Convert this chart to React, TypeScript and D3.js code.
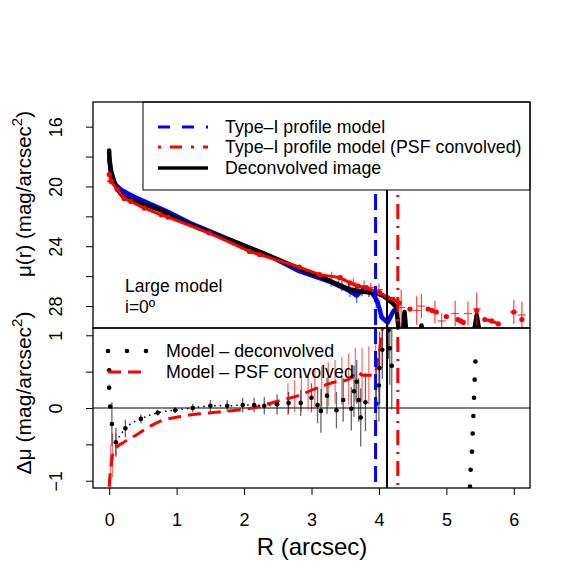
import React, { useEffect, useRef } from "react";
import * as d3 from "d3";

// top panel: surface brightness profiles, R in arcsec, mu in mag/arcsec^2
const deconvR = [0.0, 0.005, 0.025, 0.065, 0.12, 0.2, 0.32, 0.52, 0.77, 0.97, 1.34, 1.8, 2.3, 2.82, 3.12, 3.31, 3.57, 3.7, 3.86, 4.0, 4.06, 4.13, 4.2, 4.26, 4.3, 4.35, 4.38, 4.41, 4.6, 4.63, 4.66, 5.4, 5.45, 5.5, 6.1];
const deconvMu = [17.6, 18.2, 18.9, 19.55, 20.2, 20.65, 20.9, 21.2, 21.6, 22.1, 22.8, 23.6, 24.5, 25.5, 26.0, 26.4, 26.9, 27.0, 27.1, 27.2, 27.3, 27.55, 27.8, 28.1, 30, 30, 28.4, 30, 30, 29.3, 30, 30, 28.6, 30, 30];
const deconvErrR = [3.4, 3.55, 3.65, 3.75, 3.85];
const deconvErrMu = [26.55, 26.85, 26.95, 27.05, 27.1];
const deconvErrHalf = [0.25, 0.3, 0.3, 0.3, 0.3];

const typeIR = [0.0, 0.025, 0.075, 0.17, 0.27, 0.42, 0.62, 0.87, 1.2, 1.6, 2.0, 2.4, 2.82, 2.97, 3.29, 3.57, 3.67, 3.76, 3.89, 3.96, 4.01, 4.04, 4.13, 4.19, 4.22];
const typeIMu = [18.1, 19.1, 19.8, 20.2, 20.45, 20.8, 21.2, 21.7, 22.45, 23.2, 23.95, 24.7, 25.67, 25.9, 26.4, 27.0, 27.3, 26.9, 27.1, 27.55, 28.2, 28.75, 29.1, 28.55, 28.3];
const typeIErrR = [3.29, 3.45, 3.57, 3.67, 3.76, 3.96, 4.01, 4.13];
const typeIErrMu = [26.4, 26.7, 27.0, 27.3, 26.9, 27.55, 28.2, 29.1];
const typeIErrHalf = [0.3, 0.3, 0.4, 0.5, 0.3, 0.6, 0.6, 0.5];

const psfR = [0.0, 0.025, 0.12, 0.22, 0.32, 0.52, 0.77, 0.87, 1.48, 2.08, 2.23, 2.82, 3.12, 3.42, 3.57, 3.69, 3.81, 4.01, 4.13, 4.21, 4.3, 4.4, 4.46, 4.6, 4.73, 4.79, 4.85, 4.9, 5.0, 5.1, 5.17, 5.21, 5.25, 5.3, 5.45, 5.5, 5.57, 5.67, 5.77, 5.9, 6.0, 6.05, 6.12];
const psfMu = [19.2, 19.65, 20.2, 20.8, 21.0, 21.45, 21.9, 22.05, 23.1, 24.35, 24.55, 25.4, 25.9, 26.1, 26.45, 26.67, 26.77, 27.1, 27.45, 27.55, 27.8, NaN, 28.2, NaN, 28.2, 28.3, 28.4, NaN, 28.7, NaN, 28.9, 29.0, 29.1, NaN, 28.3, NaN, 28.9, 29.0, 29.2, NaN, 28.4, NaN, 28.9];
const psfErrR = [0.025, 3.3, 3.45, 3.62, 3.78, 3.88, 4.0, 4.33, 4.56, 4.63, 4.83, 4.93, 5.13, 5.32, 5.45, 6.0, 6.12];
const psfErrMu = [19.65, 26.0, 26.2, 26.45, 26.65, 26.75, 26.9, 28.1, 28.3, 28.0, 28.4, 29.0, 28.5, 28.5, 28.2, 28.4, 28.6];
const psfErrHalf = [0.2, 0.3, 0.3, 0.3, 0.35, 0.3, 0.4, 1.2, 0.95, 0.8, 0.75, 0.5, 0.85, 0.8, 1.1, 0.8, 0.9];

// break radii (vertical lines)
const breakTypeI = 3.95;
const breakDeconv = 4.12;
const breakPsf = 4.28;

// bottom panel: residuals
const diffDeconvR = [0.0, 0.0, 0.015, 0.04, 0.1, 0.24, 0.47, 0.72, 0.98, 1.24, 1.5, 1.75, 1.98, 2.15, 2.3, 2.49, 2.66, 2.84, 3.0, 3.09, 3.14, 3.23, 3.37, 3.47, 3.59, 3.63, 3.67, 3.7, 3.73, 3.8, 3.96, 4.0, 4.01, 4.05, 4.14, 4.16, 4.19, 5.35, 5.36, 5.38, 5.39, 5.4, 5.41, 5.42, 5.43];
const diffDeconv = [0.52, 0.28, 0.02, -0.22, -0.47, -0.28, -0.15, -0.065, -0.03, 0.0, 0.03, 0.03, 0.04, 0.04, 0.03, 0.05, 0.07, 0.07, 0.14, 0.04, -0.04, 0.17, -0.03, 0.11, -0.01, 0.23, 0.36, 0.11, -0.13, 0.08, 0.06, 0.31, 0.55, 0.8, 1.07, 0.82, 0.58, -1.08, -0.85, -0.6, -0.35, -0.11, 0.14, 0.39, 0.64];
const diffDeconvErr = [0, 0, 0, 0.3, 0.2, 0.12, 0.06, 0.04, 0.04, 0.06, 0.08, 0.08, 0.1, 0.1, 0.12, 0.14, 0.15, 0.18, 0.2, 0.25, 0.3, 0.25, 0.25, 0.3, 0.3, 0.35, 0.3, 0.3, 0.4, 0.4, 0.45, 0.5, 0.5, 0.4, 0.4, 0.5, 0.6, 0, 0, 0, 0, 0, 0, 0, 0];

const diffPsfR = [0.0, 0.02, 0.03, 0.045, 0.1, 0.2, 0.4, 0.59, 0.79, 1.04, 1.34, 1.63, 1.88, 2.18, 2.48, 2.77, 3.07, 3.22, 3.37, 3.47, 3.6, 3.67, 3.76, 3.91, 3.99, 4.04, 4.08];
const diffPsf = [-1.08, -0.85, -0.78, -0.67, -0.55, -0.48, -0.37, -0.26, -0.17, -0.12, -0.08, -0.055, -0.03, 0.01, 0.09, 0.16, 0.27, 0.32, 0.36, 0.37, 0.42, 0.5, 0.45, 0.45, 0.66, 1.03, 1.2];
const diffPsfErrR = [0.02, 0.05, 0.1, 2.65, 2.75, 2.85, 2.95, 3.05, 3.15, 3.25, 3.35, 3.45, 3.55, 3.65, 3.75, 3.85, 3.95, 4.05];
const diffPsfErrC = [-0.8, -0.65, -0.5, 0.12, 0.16, 0.2, 0.22, 0.27, 0.3, 0.33, 0.36, 0.37, 0.4, 0.46, 0.45, 0.45, 0.55, 0.9];
const diffPsfErrHalf = [0.3, 0.3, 0.15, 0.22, 0.22, 0.25, 0.25, 0.28, 0.28, 0.3, 0.3, 0.33, 0.35, 0.37, 0.37, 0.4, 0.4, 0.35];

const muTicks = [16, 18, 20, 22, 24, 26, 28];
const muLabels = [16, 20, 24, 28];
const dTicks = [-1, -0.5, 0, 0.5, 1];
const dLabels = [-1, 0, 1];
const rTicks = [0, 1, 2, 3, 4, 5, 6];

const FONT = "'Liberation Sans', Arial, Helvetica, sans-serif";

export default function App() {
  const svgRef = useRef<SVGSVGElement>(null);

  useEffect(() => {
    const svg = d3.select(svgRef.current);
    svg.selectAll("*").remove();
    svg.attr("font-family", FONT);

    const L = 93, R = 530, T = 102, M = 328, B = 488;
    const x = d3.scaleLinear().domain([-0.24, 6.24]).range([L, R]);
    const yTop = d3.scaleLinear().domain([14.35, 29.47]).range([T, M]);
    const yBot = d3.scaleLinear().domain([1.1, -1.1]).range([M, B]);

    const defs = svg.append("defs");
    defs.append("clipPath").attr("id", "clipTop").append("rect")
      .attr("x", L).attr("y", T).attr("width", R - L).attr("height", M - T);
    defs.append("clipPath").attr("id", "clipBot").append("rect")
      .attr("x", L).attr("y", M).attr("width", R - L).attr("height", B - M);

    const zip = (a: number[], b: number[]) => a.map((v, i) => [v, b[i]] as [number, number]);

    // ---------- top panel ----------
    const top = svg.append("g").attr("clip-path", "url(#clipTop)");
    const lineTop = d3.line<[number, number]>()
      .defined(d => !isNaN(d[1]))
      .x(d => x(d[0])).y(d => yTop(d[1]));

    const errbars = (g: any, xs: number[], cs: number[], hs: number[], ys: any, color: string, w: number, cap: number) => {
      xs.forEach((r, i) => {
        g.append("line")
          .attr("x1", x(r)).attr("x2", x(r))
          .attr("y1", ys(cs[i] - hs[i])).attr("y2", ys(cs[i] + hs[i]))
          .attr("stroke", color).attr("stroke-width", w);
        if (cap > 0) {
          g.append("line")
            .attr("x1", x(r) - cap).attr("x2", x(r) + cap)
            .attr("y1", ys(cs[i])).attr("y2", ys(cs[i]))
            .attr("stroke", color).attr("stroke-width", w);
        }
      });
    };

    // vertical break lines
    const vlines = [
      { r: breakTypeI, c: "#0000ff", dash: "16 7", w: 3 },
      { r: breakDeconv, c: "#000", dash: null, w: 2 },
      { r: breakPsf, c: "#ff0000", dash: "2 7 15 7", w: 3 },
    ];

    errbars(top, typeIErrR, typeIErrMu, typeIErrHalf, yTop, "rgba(0,0,255,0.6)", 1.3, 0);
    top.append("path").datum(zip(typeIR, typeIMu)).attr("d", lineTop)
      .attr("fill", "none").attr("stroke", "#0000ff").attr("stroke-width", 4.5)
      .attr("stroke-linejoin", "round").attr("stroke-linecap", "round");

    errbars(top, deconvErrR, deconvErrMu, deconvErrHalf, yTop, "rgba(0,0,0,0.7)", 1.3, 0);
    top.append("path").datum(zip(deconvR, deconvMu)).attr("d", lineTop)
      .attr("fill", "none").attr("stroke", "#000").attr("stroke-width", 4.5)
      .attr("stroke-linejoin", "round").attr("stroke-linecap", "round");

    errbars(top, psfErrR, psfErrMu, psfErrHalf, yTop, "rgba(255,0,0,0.75)", 1.2, 4);
    top.append("path").datum(zip(psfR, psfMu)).attr("d", lineTop)
      .attr("fill", "none").attr("stroke", "#ff0000").attr("stroke-width", 3)
      .attr("stroke-linejoin", "round").attr("stroke-linecap", "round");
    top.selectAll("circle.psf").data(zip(psfR, psfMu).filter(d => !isNaN(d[1])))
      .join("circle").attr("class", "psf")
      .attr("cx", d => x(d[0])).attr("cy", d => yTop(d[1])).attr("r", 2.6)
      .attr("fill", "#ff0000");

    vlines.forEach(v => {
      top.append("line").attr("x1", x(v.r)).attr("x2", x(v.r)).attr("y1", T).attr("y2", M)
        .attr("stroke", v.c).attr("stroke-width", v.w).attr("stroke-dasharray", v.dash);
    });

    // legend (top)
    svg.append("rect").attr("x", 143).attr("y", T).attr("width", R - 143).attr("height", 88)
      .attr("fill", "#fff").attr("stroke", "#000").attr("stroke-width", 1);
    const legTop = [
      { label: "Type\u2013I profile model", c: "#0000ff", dash: "12 12", w: 3, y: 127 },
      { label: "Type\u2013I profile model (PSF convolved)", c: "#ff0000", dash: "3 9 12 9", w: 3, y: 147 },
      { label: "Deconvolved image", c: "#000", dash: null, w: 3.5, y: 168 },
    ];
    legTop.forEach(d => {
      svg.append("line").attr("x1", 158).attr("x2", 208).attr("y1", d.y).attr("y2", d.y)
        .attr("stroke", d.c).attr("stroke-width", d.w).attr("stroke-dasharray", d.dash);
      svg.append("text").attr("x", 225).attr("y", d.y + 6).attr("font-size", 17.8).text(d.label);
    });

    svg.append("text").attr("x", 125).attr("y", 292).attr("font-size", 17.5).text("Large model");
    svg.append("text").attr("x", 125).attr("y", 313).attr("font-size", 17.5).text("i=0\u00ba");

    // ---------- bottom panel ----------
    const bot = svg.append("g").attr("clip-path", "url(#clipBot)");
    bot.append("line").attr("x1", L).attr("x2", R).attr("y1", yBot(0)).attr("y2", yBot(0))
      .attr("stroke", "#000").attr("stroke-width", 1);

    const lineBot = d3.line<[number, number]>().x(d => x(d[0])).y(d => yBot(d[1]));

    errbars(bot, diffPsfErrR, diffPsfErrC, diffPsfErrHalf, yBot, "rgba(255,0,0,0.55)", 1.3, 0);
    errbars(bot, diffDeconvR.filter((_, i) => diffDeconvErr[i] > 0),
      diffDeconv.filter((_, i) => diffDeconvErr[i] > 0),
      diffDeconvErr.filter(e => e > 0), yBot, "rgba(0,0,0,0.6)", 1.3, 0);

    bot.append("path").datum(zip(diffPsfR, diffPsf)).attr("d", lineBot.curve(d3.curveMonotoneX))
      .attr("fill", "none").attr("stroke", "#ff0000").attr("stroke-width", 3)
      .attr("stroke-dasharray", "13 7");

    const dotted = zip(diffDeconvR, diffDeconv).filter(d => d[0] >= 0.1 && d[0] <= 2.5);
    bot.append("path").datum(dotted).attr("d", d3.line<[number, number]>().x(d => x(d[0])).y(d => yBot(d[1]))
      .curve(d3.curveMonotoneX))
      .attr("fill", "none").attr("stroke", "#000").attr("stroke-width", 1.5)
      .attr("stroke-dasharray", "1.5 4");

    bot.selectAll("circle.dd").data(zip(diffDeconvR, diffDeconv)).join("circle").attr("class", "dd")
      .attr("cx", d => x(d[0])).attr("cy", d => yBot(d[1])).attr("r", 2.3).attr("fill", "#000");

    vlines.forEach(v => {
      bot.append("line").attr("x1", x(v.r)).attr("x2", x(v.r)).attr("y1", M).attr("y2", B)
        .attr("stroke", v.c).attr("stroke-width", v.w).attr("stroke-dasharray", v.dash);
    });

    // legend (bottom, no box)
    [108, 127, 146].forEach(px => {
      svg.append("circle").attr("cx", px).attr("cy", 351).attr("r", 2.3).attr("fill", "#000");
    });
    svg.append("text").attr("x", 166).attr("y", 357).attr("font-size", 17.8).text("Model \u2013 deconvolved");
    svg.append("line").attr("x1", 108).attr("x2", 146).attr("y1", 372).attr("y2", 372)
      .attr("stroke", "#ff0000").attr("stroke-width", 3).attr("stroke-dasharray", "13 7");
    svg.append("text").attr("x", 166).attr("y", 378).attr("font-size", 17.8).text("Model \u2013 PSF convolved");

    // frames
    svg.append("rect").attr("x", L).attr("y", T).attr("width", R - L).attr("height", M - T)
      .attr("fill", "none").attr("stroke", "#000").attr("stroke-width", 1.3);
    svg.append("rect").attr("x", L).attr("y", M).attr("width", R - L).attr("height", B - M)
      .attr("fill", "none").attr("stroke", "#000").attr("stroke-width", 1.3);

    // ---------- axes ----------
    const yAxisTop = svg.append("g").attr("transform", `translate(${L},0)`)
      .call(d3.axisLeft(yTop).tickValues(muTicks).tickSize(7)
        .tickFormat(d => (muLabels.includes(+d) ? String(d) : "")));
    const yAxisBot = svg.append("g").attr("transform", `translate(${L},0)`)
      .call(d3.axisLeft(yBot).tickValues(dTicks).tickSize(7)
        .tickFormat(d => (dLabels.includes(+d) ? String(d).replace("-", "\u2212") : "")));
    [yAxisTop, yAxisBot].forEach(g => {
      g.select(".domain").remove();
      g.selectAll(".tick line").attr("stroke", "#000");
      g.selectAll(".tick text")
        .attr("x", null).attr("dy", null)
        .attr("transform", "translate(-31,0) rotate(-90)")
        .attr("text-anchor", "middle")
        .attr("font-size", 18).attr("font-family", FONT).attr("fill", "#000");
    });

    const xAxis = svg.append("g").attr("transform", `translate(0,${B})`)
      .call(d3.axisBottom(x).tickValues(rTicks).tickSize(7).tickFormat(d => String(d)));
    xAxis.select(".domain").remove();
    xAxis.selectAll(".tick line").attr("stroke", "#000");
    xAxis.selectAll(".tick text").attr("y", 38).attr("dy", null)
      .attr("font-size", 18).attr("font-family", FONT).attr("fill", "#000");

    // axis titles
    svg.append("text").attr("x", 312).attr("y", 555).attr("text-anchor", "middle")
      .attr("font-size", 24).text("R (arcsec)");

    const t1 = svg.append("text").attr("transform", "translate(31,194) rotate(-90)")
      .attr("text-anchor", "middle").attr("font-size", 20.5);
    t1.append("tspan").text("\u03bc(r) (mag/arcsec");
    t1.append("tspan").attr("dy", -9).attr("font-size", 15).text("2");
    t1.append("tspan").attr("dy", 9).text(")");

    const t2 = svg.append("text").attr("transform", "translate(31,393) rotate(-90)")
      .attr("text-anchor", "middle").attr("font-size", 21);
    t2.append("tspan").text("\u0394\u03bc (mag/arcsec");
    t2.append("tspan").attr("dy", -9).attr("font-size", 15).text("2");
    t2.append("tspan").attr("dy", 9).text(")");
  }, []);

  return (
    <svg ref={svgRef} width={576} height={576}
      style={{ position: "absolute", left: 0, top: 0, background: "#fff" }} />
  );
}
